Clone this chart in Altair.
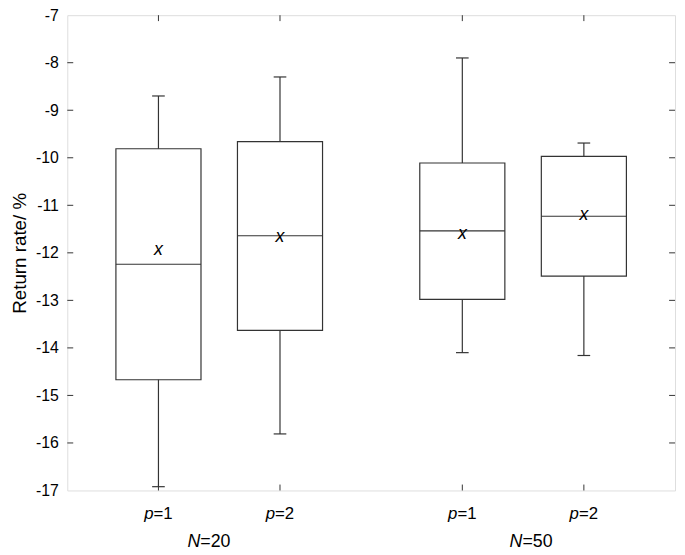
import altair as alt
import pandas as pd

# ---- data ----
positions = [1.0, 2.0, 3.5, 4.5]
p_labels = ["1", "2", "1", "2"]
whisk_lo = [-16.92, -15.81, -14.10, -14.16]
q1 = [-14.67, -13.63, -12.98, -12.49]
median = [-12.24, -11.64, -11.54, -11.23]
q3 = [-9.81, -9.66, -10.11, -9.97]
whisk_hi = [-8.70, -8.30, -7.90, -9.69]
means = [-11.99, -11.71, -11.64, -11.25]

group_pos = [1.45, 4.10]
group_labels = ["20", "50"]

y_ticks = [-17, -16, -15, -14, -13, -12, -11, -10, -9, -8, -7]
inner_y_ticks = [-16, -15, -14, -13, -12, -11, -10, -9, -8]

W, H = 615, 481
LINE = "#333333"
FONT = "Liberation Sans"

df = pd.DataFrame({
    "pos": positions, "plab": p_labels, "lo": whisk_lo, "q1": q1,
    "med": median, "q3": q3, "hi": whisk_hi, "mean": means,
})
gdf = pd.DataFrame({"pos": group_pos, "glab": group_labels})
ytdf = pd.DataFrame({"v": inner_y_ticks})

xscale = alt.Scale(domain=[0.25, 5.25], nice=False, zero=False)
yscale = alt.Scale(domain=[-17, -7], nice=False, zero=False)

base = alt.Chart(df).transform_calculate(
    left="datum.pos - 0.35", right="datum.pos + 0.35",
    cl="datum.pos - 0.052", cr="datum.pos + 0.052",
)

yaxis = alt.Axis(values=y_ticks, ticks=False, domain=False, grid=False,
                 labelFontSize=16, labelFont=FONT, labelColor="black",
                 labelPadding=9, labelExpr="datum.value + ''",
                 title="Return rate/ %", titleFont=FONT, titleFontSize=19,
                 titleFontWeight="normal", titleColor="black", titlePadding=6)

boxes = base.mark_rect(fill="white", stroke=LINE, strokeWidth=1.2).encode(
    x=alt.X("left:Q", scale=xscale, axis=None),
    x2="right:Q",
    y=alt.Y("q1:Q", scale=yscale, axis=yaxis),
    y2="q3:Q",
)
medians = base.mark_rule(color=LINE, strokeWidth=1.2).encode(
    x="left:Q", x2="right:Q", y="med:Q")
upper = base.mark_rule(color=LINE, strokeWidth=1.2).encode(
    x="pos:Q", y="q3:Q", y2="hi:Q")
lower = base.mark_rule(color=LINE, strokeWidth=1.2).encode(
    x="pos:Q", y="lo:Q", y2="q1:Q")
capu = base.mark_rule(color=LINE, strokeWidth=1.2).encode(
    x="cl:Q", x2="cr:Q", y="hi:Q")
capl = base.mark_rule(color=LINE, strokeWidth=1.2).encode(
    x="cl:Q", x2="cr:Q", y="lo:Q")
mean_x = base.mark_text(text="x", fontStyle="italic", font=FONT, fontSize=18,
                        baseline="middle", align="center", dy=-2,
                        color="black").encode(x="pos:Q", y="mean:Q")

# inward ticks on all four sides
lt = alt.Chart(ytdf).mark_rule(color=LINE, strokeWidth=1).encode(
    y=alt.Y("v:Q", scale=yscale), x=alt.value(0), x2=alt.value(6))
rt = alt.Chart(ytdf).mark_rule(color=LINE, strokeWidth=1).encode(
    y=alt.Y("v:Q", scale=yscale), x=alt.value(W - 6), x2=alt.value(W))
bt = base.mark_rule(color=LINE, strokeWidth=1).encode(
    x="pos:Q", y=alt.value(H), y2=alt.value(H - 6))
tt = base.mark_rule(color=LINE, strokeWidth=1).encode(
    x="pos:Q", y=alt.value(0), y2=alt.value(6))

# x labels: italic "p" + "=k"
p_it = base.mark_text(text="p", fontStyle="italic", font=FONT, fontSize=17,
                      align="right", baseline="alphabetic", dx=-5,
                      color="black").encode(x="pos:Q", y=alt.value(H + 29))
p_rest = base.mark_text(font=FONT, fontSize=17, align="left",
                        baseline="alphabetic", dx=-5, color="black").encode(
    x="pos:Q", y=alt.value(H + 29), text=alt.Text("eq:N")
).transform_calculate(eq="'=' + datum.plab")

gbase = alt.Chart(gdf)
n_it = gbase.mark_text(text="N", fontStyle="italic", font=FONT, fontSize=18,
                       align="right", baseline="alphabetic", dx=-13,
                       color="black").encode(
    x=alt.X("pos:Q", scale=xscale), y=alt.value(H + 57))
n_rest = gbase.mark_text(font=FONT, fontSize=18, align="left",
                         baseline="alphabetic", dx=-13, color="black").encode(
    x=alt.X("pos:Q", scale=xscale), y=alt.value(H + 57), text=alt.Text("eq:N")
).transform_calculate(eq="'=' + datum.glab")

chart = alt.layer(
    boxes, medians, upper, lower, capu, capl, mean_x,
    lt, rt, bt, tt, p_it, p_rest, n_it, n_rest,
).properties(
    width=W, height=H,
    autosize=alt.AutoSizeParams(type="none"),
    padding={"left": 60, "top": 4, "right": 2, "bottom": 60},
).configure_view(
    stroke=LINE, strokeWidth=1.2, fill="white"
).configure(background="white")

chart.save("out.html", embed_options={"renderer": "svg", "actions": False})
